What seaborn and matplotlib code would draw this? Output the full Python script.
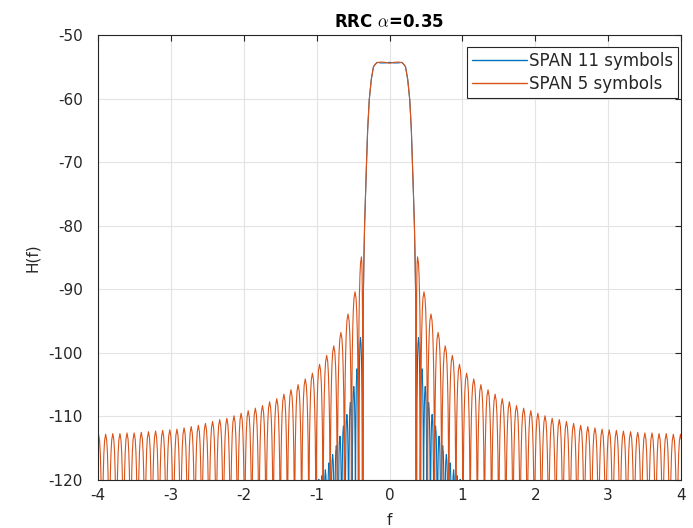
import numpy as np
import pandas as pd
import seaborn as sns
import matplotlib.pyplot as plt

# Values (positive f only, the curve is symmetric)
# main lobe, shared f grid
main_f = [0.0, 0.06, 0.12, 0.17, 0.195, 0.22, 0.25, 0.278, 0.30, 0.315, 0.33, 0.342, 0.352, 0.36]
main_db_span5 = [-54.45, -54.3, -54.25, -54.35, -54.6, -55.0, -57.0, -60.2, -65.0, -70.0, -75.5, -80.0, -86.0, -92.0]
main_db_span11 = [-54.3, -54.4, -54.4, -54.3, -54.6, -55.0, -57.0, -60.2, -65.0, -70.0, -75.5, -80.0, -86.0, -92.0]

# sidelobe peaks and nulls, SPAN 5
peak_f_span5 = [0.385, 0.473, 0.569, 0.667, 0.765, 0.862, 0.960, 1.058, 1.156, 1.254,
                1.352, 1.449, 1.547, 1.645, 1.743, 1.841, 1.939, 2.036, 2.134, 2.232,
                2.330, 2.428, 2.526, 2.623, 2.721, 2.819, 2.917, 3.015, 3.113, 3.210,
                3.308, 3.406, 3.504, 3.602, 3.699, 3.797, 3.895, 3.993]
peak_db_span5 = [-84.9, -90.4, -93.9, -96.8, -98.9, -100.4, -101.8, -103.2, -104.1, -105.0,
                 -105.8, -106.5, -107.2, -107.7, -108.3, -108.7, -109.1, -109.5, -109.9, -110.3,
                 -110.5, -110.8, -111.1, -111.4, -111.6, -111.8, -112.0, -112.1, -112.2, -112.3,
                 -112.4, -112.5, -112.6, -112.6, -112.7, -112.7, -112.8, -112.8]
null_f_span5 = [0.366, 0.427, 0.521, 0.618, 0.716, 0.814, 0.911, 1.009, 1.107, 1.205,
                1.303, 1.401, 1.498, 1.596, 1.694, 1.792, 1.890, 1.988, 2.085, 2.183,
                2.281, 2.379, 2.477, 2.575, 2.672, 2.770, 2.868, 2.966, 3.064, 3.162,
                3.259, 3.357, 3.455, 3.553, 3.651, 3.748, 3.846, 3.944, 4.042]

# sidelobe peaks and nulls, SPAN 11 (only those above the -120 floor)
peak_f_span11 = [0.398, 0.445, 0.490, 0.537, 0.585, 0.632, 0.680, 0.730, 0.780, 0.830, 0.880, 0.925, 0.970]
peak_db_span11 = [-97.6, -102.5, -105.3, -107.8, -109.7, -111.5, -113.1, -114.6, -116.0, -117.3, -118.4, -119.3, -119.9]
null_f_span11 = [0.372, 0.422, 0.467, 0.513, 0.561, 0.608, 0.656, 0.705, 0.755, 0.805, 0.855, 0.902, 0.947, 0.995]

# arch shape of one sidelobe as seen in the zoomed picture:
# position across the lobe (-0.5 = left null, 0.5 = right null) and drop below its peak in dB
lobe_pos = [-0.45, -0.40, -0.33, -0.25, -0.15, 0.0, 0.15, 0.25, 0.33, 0.40, 0.45]
lobe_drop = [-16.0, -10.0, -6.0, -3.0, -1.0, 0.0, -1.0, -3.0, -6.0, -10.0, -16.0]
null_db = -150.0  # nulls are far below the -120 floor

labels = ['SPAN 11 symbols', 'SPAN 5 symbols']
colors = ['#0072BD', '#D95319']


def build_curve(mf, mdb, pf, pdb, nf):
    f = list(mf)
    h = list(mdb)
    for i in range(len(pf)):
        f.append(nf[i])
        h.append(null_db)
        for p, d in zip(lobe_pos, lobe_drop):
            w = (pf[i] - nf[i]) if p < 0 else (nf[i + 1] - pf[i])
            f.append(pf[i] + 2 * p * w)
            h.append(pdb[i] + d)
    f.append(nf[-1])
    h.append(null_db)
    # mirror to negative frequencies
    f_full = [-x for x in f[::-1]] + f[1:]
    h_full = h[::-1] + h[1:]
    return f_full, h_full


f11, h11 = build_curve(main_f + [0.366], main_db_span11 + [-98.0], peak_f_span11, peak_db_span11, null_f_span11)
f5, h5 = build_curve(main_f, main_db_span5, peak_f_span5, peak_db_span5, null_f_span5)

df = pd.concat([
    pd.DataFrame({'f': f11, 'H': h11, 'filter': labels[0]}),
    pd.DataFrame({'f': f5, 'H': h5, 'filter': labels[1]}),
])

sns.set_style('white')
plt.rcParams['font.family'] = ['DejaVu Sans']
plt.rcParams['axes.unicode_minus'] = False
plt.rcParams['mathtext.fontset'] = 'cm'

fig = plt.figure(figsize=(6.93, 5.28), dpi=100)
ax = fig.add_axes([98 / 693, 1 - 480 / 528, (681 - 98) / 693, (480 - 35) / 528])

sns.lineplot(data=df, x='f', y='H', hue='filter', hue_order=labels, palette=colors,
             estimator=None, sort=False, linewidth=0.8, ax=ax)

ax.set_xlim(-4, 4)
ax.set_ylim(-120, -50)
ax.set_xticks(range(-4, 5))
ax.set_yticks(range(-120, -49, 10))
ax.grid(True, color='#e3e3e3', linewidth=0.8)
ax.set_axisbelow(True)
for s in ax.spines.values():
    s.set_color('#262626')
    s.set_linewidth(0.8)
ax.tick_params(direction='in', length=4, width=0.8, top=True, right=True,
               colors='#262626', labelsize=11, labelcolor='#262626')
ax.tick_params(axis='y', pad=11)
ax.tick_params(axis='x', pad=6)
ax.set_xlabel('f', fontsize=11, color='#262626', labelpad=7)
ax.set_ylabel('H(f)', fontsize=11, color='#262626', labelpad=6)
ax.set_title(r'RRC $\alpha$=0.35', fontsize=12, fontweight='bold', color='black', pad=6)

leg = ax.legend(loc='upper right', bbox_to_anchor=(0.995, 0.973), fontsize=12,
                frameon=True, fancybox=False, framealpha=1, edgecolor='#262626',
                handlelength=3.3, handletextpad=0.1, borderpad=0.3, labelspacing=0.3,
                borderaxespad=0)
leg.get_frame().set_linewidth(0.8)
for line in leg.get_lines():
    line.set_linewidth(1.0)

fig.savefig('out.png', dpi=100)
